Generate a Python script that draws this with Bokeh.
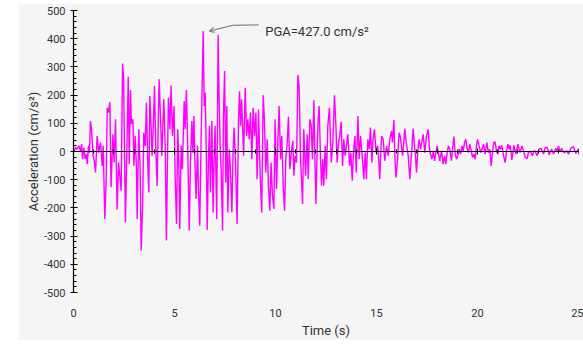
from bokeh.plotting import figure
from bokeh.models import (LinearAxis, Range1d, Label, Arrow, OpenHead,
                          SingleIntervalTicker, ColumnDataSource, PrintfTickFormatter)
from bokeh.embed import file_html
from bokeh.resources import INLINE

time_s = [0.00, 0.02, 0.10, 0.18, 0.26, 0.35, 0.40, 0.45, 0.51, 0.58, 0.64, 0.68, 0.74, 0.79,
          0.84, 0.89, 0.97, 1.04, 1.09, 1.17, 1.25, 1.34, 1.42, 1.47, 1.55, 1.62, 1.67, 1.73,
          1.80, 1.86, 1.95, 2.01, 2.08, 2.16, 2.23, 2.29, 2.36, 2.43, 2.48, 2.53, 2.57, 2.64,
          2.71, 2.76, 2.82, 2.87, 2.94, 2.99, 3.05, 3.12, 3.15, 3.23, 3.30, 3.35, 3.42, 3.48,
          3.55, 3.61, 3.68, 3.73, 3.78, 3.84, 3.89, 3.96, 4.01, 4.07, 4.14, 4.19, 4.24, 4.31,
          4.37, 4.47, 4.54, 4.60, 4.65, 4.70, 4.77, 4.83, 4.90,
          4.98, 5.03, 5.10, 5.16, 5.21, 5.26, 5.33, 5.39, 5.48, 5.53, 5.59, 5.66, 5.73, 5.79,
          5.86, 5.91, 5.96, 6.01, 6.07, 6.14, 6.19, 6.25, 6.32, 6.37, 6.42, 6.47, 6.52, 6.57,
          6.62, 6.68, 6.73, 6.78, 6.85, 6.91, 6.96, 7.01, 7.09, 7.16, 7.21, 7.26, 7.31, 7.38,
          7.42, 7.48, 7.54, 7.59, 7.64, 7.71, 7.77, 7.84, 7.90, 7.95, 8.02, 8.10, 8.17, 8.22,
          8.27, 8.32, 8.37, 8.42, 8.50, 8.57, 8.63, 8.70, 8.76, 8.83, 8.89, 8.96, 9.03, 9.09,
          9.16, 9.22, 9.27, 9.32, 9.39, 9.45, 9.52, 9.59, 9.65, 9.72, 9.78, 9.85, 9.92,
          9.98, 10.05, 10.12, 10.18, 10.25, 10.31, 10.38, 10.45, 10.51, 10.58, 10.64, 10.71,
          10.78, 10.86, 10.91, 10.97, 11.04, 11.11, 11.17, 11.24, 11.29, 11.34, 11.40, 11.49,
          11.57, 11.62, 11.70, 11.77, 11.83, 11.90, 11.95, 12.00, 12.06, 12.11, 12.16, 12.23,
          12.28, 12.34, 12.39, 12.46, 12.52, 12.59, 12.67, 12.76, 12.84, 12.92, 12.99, 13.05,
          13.12, 13.18, 13.25, 13.32, 13.38, 13.45, 13.51, 13.58, 13.67, 13.73, 13.80, 13.86,
          13.93, 14.00, 14.08, 14.14, 14.21, 14.29, 14.37, 14.44, 14.50, 14.57, 14.64, 14.70,
          14.77, 14.83, 14.90, 14.98, 15.05, 15.11,
          15.16, 15.25, 15.33, 15.41, 15.50, 15.58, 15.66, 15.74, 15.79, 15.86, 15.91, 15.96,
          16.02, 16.07, 16.12, 16.19, 16.24, 16.29, 16.35, 16.40, 16.45, 16.52, 16.57, 16.65,
          16.70, 16.75, 16.81, 16.88, 16.93, 16.98, 17.05, 17.11, 17.18, 17.24, 17.31, 17.39,
          17.48, 17.56, 17.61, 17.67, 17.74, 17.81, 17.87, 17.94, 18.00, 18.07, 18.13, 18.22,
          18.30, 18.37, 18.43, 18.50, 18.56, 18.63, 18.71, 18.78, 18.83, 18.89, 18.96, 19.03,
          19.09, 19.16, 19.23, 19.29, 19.36, 19.42, 19.49, 19.55, 19.62, 19.69, 19.75, 19.82,
          19.88, 19.95, 20.00, 20.08, 20.16,
          20.30, 20.38, 20.46, 20.54, 20.61, 20.68, 20.74, 20.81, 20.87, 20.94, 21.01, 21.07,
          21.14, 21.20, 21.29, 21.37, 21.43, 21.50, 21.57, 21.62, 21.70, 21.75, 21.80, 21.90,
          22.00, 22.11, 22.20, 22.28, 22.36, 22.46, 22.52, 22.61, 22.72, 22.79, 22.85, 22.94,
          23.05, 23.15, 23.27, 23.35, 23.46, 23.55, 23.61, 23.68, 23.76, 23.88, 23.94, 24.01,
          24.09, 24.17, 24.24, 24.30, 24.42, 24.51, 24.57, 24.64, 24.75, 24.87, 24.97]

accel = [0, 0, 14, 8, 20, 2, 26, -27, 14, -27, -10, -45, 20, -5,
         108, 79, -15, -39, -74, 55, -4, 32, -51, 20, -239, -98, 155, 138,
         175, -127, 61, -39, 114, -206, -39, -86, -139, 312, 256, -27, -251, -4,
         265, -45, 218, 97, 114, -51, 55, -63, -239, 79, -63, -351, -192, 67,
         20, 173, -51, -145, 197, 91, -15, 114, 232, 20, -122, 79, 256, 114,
         -15, 185, 20, -316, -39, 191, 79, 234, 55,
         161, -86, -257, 79, -27, -275, 20, -63, 179, 79, 218, -4, -280, -39,
         108, -4, 126, -39, -168, 20, -145, -263, 55, 232, 427, 161, 208, 20,
         -278, -27, 91, -145, 108, -216, -27, 91, -239, 414, 185, 20, -63, -280,
         114, 285, -110, 161, -216, 8, -63, -216, -4, 85, -39, -257, 114, 214,
         91, 185, 91, -15, 226, 55, 114, 43, 138, -27, 155, 55, 138, -98,
         149, -27, -139, -216, 199, 114, -74, 43, -122, -210, -39, -157, -204,
         114, -133, 43, 161, -27, 55, -121, -210, -27, 32, 123, -62,
         -4, 38, -86, -15, -39, 271, 232, -27, -104, -186, 79, -86,
         61, -98, 114, 91, -27, 182, -27, -186, -4, 114, 161, -27,
         -121, -27, -121, 20, -98, 91, 155, -39, 32, 199, 91, -39,
         32, 55, 105, -51, 43, -15, 20, 61, -51, -4, -104, -4,
         55, -74, 126, -27, 55, -15, -98, -4, -98, 43, 8, 85,
         -39, 43, 79, -4, 20, -27,
         -98, 55, 43, -33, 20, -15, 43, 73, 32, 112, -15, -92,
         -51, 8, 67, 49, 14, -15, 32, 81, 43, 8, -15, -98,
         -39, 8, 81, 20, -15, -74, 8, 43, 8, 32, 61, -4,
         57, 78, 20, -9, -27, 2, -33, -4, 20, -9, -33, 2,
         -45, -15, -45, -4, 20, 8, -33, 20, 53, -4, -27, -15,
         8, -9, 20, 2, 32, 43, 8, -4, 26, 2, -21, -9,
         -27, 20, 43, 20, -4,
         26, -9, 32, -4, 8, -51, -4, 32, 34, 2, -9, 20,
         8, 22, -15, -39, -4, 26, 8, 22, -30, -4, 22, -9,
         26, -4, 20, 2, -21, -25, -4, 2, -15, 2, 2, -15,
         8, 11, -9, 14, 14, -13, 2, 8, -9, 11, 2, 20,
         -1, 11, -1, -4, 2, -9, 2, 14, 17, -7, 8]

x_ticks = [0, 5, 10, 15, 20, 25]
pga_label = "PGA=427.0 cm/s\u00b2"
x_title = "Time (s)"
y_title = "Acceleration (cm/s\u00b2)"

BG = "#f4f5f4"
FONT = "Roboto"
TXT = "#333333"

p = figure(width=565, height=337, margin=(3, 0, 0, 18),
           x_range=Range1d(0, 25), y_range=Range1d(-500, 500),
           output_backend="svg", toolbar_location=None,
           background_fill_color=BG, border_fill_color=BG,
           outline_line_color=None,
           min_border_left=55, min_border_right=5,
           min_border_top=7, min_border_bottom=47)
p.xgrid.visible = False
p.ygrid.visible = False

src = ColumnDataSource(dict(t=time_s, a=accel))
p.line("t", "a", source=src, line_color="#ff00ff", line_width=1.4)

# bottom axis: labels only
xa = p.xaxis[0]
xa.ticker = x_ticks
xa.axis_line_color = None
xa.major_tick_line_color = None
xa.minor_tick_line_color = None
xa.major_label_standoff = 10
xa.major_label_text_font = FONT
xa.major_label_text_font_size = "11px"
xa.major_label_text_color = TXT
xa.axis_label = x_title
xa.axis_label_text_font = FONT
xa.axis_label_text_font_size = "13px"
xa.axis_label_text_font_style = "normal"
xa.axis_label_text_color = TXT
xa.axis_label_standoff = 3

# zero-line axis with ticks
za = LinearAxis(fixed_location=0,
                ticker=SingleIntervalTicker(interval=5, num_minor_ticks=5),
                axis_line_color="black", axis_line_width=1.2,
                major_tick_in=3, major_tick_out=3,
                minor_tick_in=2, minor_tick_out=2,
                major_tick_line_color="black", minor_tick_line_color="black",
                major_label_text_alpha=0, major_label_text_font_size="1px")
p.add_layout(za, "below")

ya = p.yaxis[0]
ya.ticker = SingleIntervalTicker(interval=100, num_minor_ticks=5)
ya.formatter = PrintfTickFormatter(format="%d")
ya.axis_line_color = "black"
ya.axis_line_width = 1.2
ya.major_tick_in = 4
ya.major_tick_out = 3
ya.minor_tick_in = 3
ya.minor_tick_out = 0
ya.major_tick_line_color = "black"
ya.minor_tick_line_color = "black"
ya.major_label_standoff = 5
ya.major_label_text_font = FONT
ya.major_label_text_font_size = "11px"
ya.major_label_text_color = TXT
ya.axis_label = y_title
ya.axis_label_text_font = FONT
ya.axis_label_text_font_size = "13px"
ya.axis_label_text_font_style = "normal"
ya.axis_label_text_color = TXT
ya.axis_label_standoff = 0

# PGA annotation
ip = max(range(len(accel)), key=lambda i: accel[i])
tp, ap = time_s[ip], accel[ip]
p.add_layout(Label(x=tp, y=ap, x_offset=62, y_offset=0, text=pga_label,
                   text_font=FONT, text_font_size="13px", text_color=TXT,
                   text_baseline="middle"))
p.line([tp + 2.75, tp + 1.45], [ap + 22, ap + 20], line_color="#888888", line_width=1.2)
p.add_layout(Arrow(x_start=tp + 1.45, y_start=ap + 20, x_end=tp + 0.3, y_end=ap,
                   line_color="#888888", line_width=1.2,
                   end=OpenHead(size=5, line_color="#888888", line_width=1.2)))

open("out.html", "w").write(file_html(p, INLINE))
